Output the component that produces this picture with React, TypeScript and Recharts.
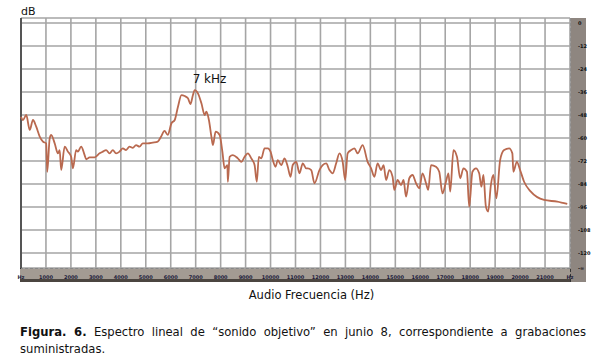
import React from "react";
import {
  LineChart,
  Line,
  XAxis,
  YAxis,
  CartesianGrid,
  ReferenceLine,
  ReferenceDot,
} from "recharts";

// spectrum trace: frequency (Hz) and level (dB)
const frequencyHz = [
  0, 80, 210, 350, 480, 610, 750, 880, 1010, 1050, 1150, 1210, 1350, 1480, 1550, 1610, 1750, 1880, 2010, 2080,
  2210, 2280, 2410, 2550, 2610, 2750, 2950, 3150, 3280, 3410, 3550, 3680, 3810, 3950, 4080, 4210, 4350, 4480,
  4610, 4750, 4880, 5080, 5280, 5480, 5610, 5750, 5880, 6030, 6160, 6290, 6430, 6560, 6690, 6790, 6890, 6960,
  7090, 7230, 7360, 7430, 7530, 7630, 7690, 7800, 7960, 8070, 8160, 8270, 8290, 8360, 8490, 8690, 8830, 8960,
  9090, 9230, 9360, 9450, 9530, 9630, 9760, 9890, 10000, 10090, 10200, 10290, 10430, 10560, 10690, 10800,
  10890, 11030, 11160, 11290, 11430, 11490, 11630, 11760, 11960, 12090, 12230, 12360, 12490, 12630, 12760,
  12890, 12990, 13090, 13230, 13360, 13490, 13690, 13890, 14030, 14160, 14290, 14430, 14530, 14630, 14760,
  14890, 14960, 15090, 15230, 15330, 15430, 15560, 15690, 15830, 15960, 16090, 16230, 16320, 16430, 16630,
  16760, 16890, 17030, 17130, 17200, 17330, 17470, 17600, 17730, 17870, 17960, 18090, 18230, 18360, 18450,
  18530, 18630, 18720, 18830, 18930, 19050, 19200, 19360, 19560, 19690, 19730, 19870, 20000, 20160, 20430,
  20960, 21490, 21890,
];
const levelDb = [
  -49.0, -50.6, -48.0, -55.8, -50.6, -54.1, -59.3, -61.9, -62.8, -77.6, -60.2, -58.4, -62.8, -68.0, -66.3, -76.7,
  -64.5, -67.1, -69.8, -75.8, -66.3, -67.1, -64.5, -68.9, -71.1, -70.1, -70.1, -68.0, -67.1, -66.3, -68.0, -66.3,
  -68.0, -67.1, -65.4, -66.3, -64.5, -65.1, -63.7, -64.5, -62.8, -62.8, -62.4, -61.9, -59.3, -56.3, -58.4, -52.3,
  -50.6, -43.7, -37.6, -38.1, -39.3, -42.3, -37.6, -35.0, -36.7, -41.9, -48.0, -46.3, -50.6, -59.3, -63.7, -56.7,
  -58.4, -67.1, -75.8, -74.1, -82.8, -69.8, -68.9, -70.6, -72.4, -69.8, -68.0, -70.6, -74.1, -82.8, -69.8, -70.6,
  -65.4, -65.4, -67.1, -71.5, -75.0, -71.5, -74.1, -70.6, -75.0, -80.2, -74.1, -72.4, -78.4, -73.2, -75.8, -75.8,
  -76.7, -83.6, -76.7, -74.1, -73.2, -76.7, -78.4, -73.2, -68.0, -72.4, -81.9, -68.0, -66.3, -65.4, -68.0, -63.7,
  -72.4, -75.8, -80.2, -73.2, -76.7, -74.1, -81.9, -76.7, -80.2, -87.1, -81.9, -84.5, -81.9, -90.6, -81.0, -79.3,
  -83.6, -86.2, -78.4, -83.6, -87.1, -74.1, -75.0, -77.6, -88.9, -82.8, -78.4, -88.0, -66.3, -69.8, -81.0, -75.8,
  -77.6, -95.8, -77.6, -75.8, -78.4, -85.4, -79.3, -95.8, -98.4, -84.5, -79.3, -91.5, -71.5, -66.3, -65.4, -68.0,
  -77.6, -72.4, -76.7, -82.8, -88.0, -92.3, -93.2, -94.4,
];

const xTicks = [
  0, 1000, 2000, 3000, 4000, 5000, 6000, 7000, 8000, 9000, 10000, 11000, 12000, 13000, 14000, 15000, 16000,
  17000, 18000, 19000, 20000, 21000, 22000,
];
const yTicks = [0, -12, -24, -36, -48, -60, -72, -84, -96, -108, -120, -127.8];
const yTickLabels = ["0", "-12", "-24", "-36", "-48", "-60", "-72", "-84", "-96", "-108", "-120", "-∞"];

const data = frequencyHz.map((f, i) => ({ f, db: levelDb[i] }));

const FONT = "'DejaVu Sans', Verdana, sans-serif";

const xLabel = (v: number) => (v === 0 || v === 22000 ? "Hz" : String(v));
const yLabel = (v: number) => yTickLabels[yTicks.indexOf(v)] ?? String(v);

export default function App() {
  return (
    <div
      style={{
        position: "absolute",
        left: 0,
        top: 0,
        width: 603,
        height: 364,
        background: "#fff",
        fontFamily: FONT,
        color: "#111",
      }}
    >
      {/* bands behind the plot, like the analyser window */}
      <div
        style={{
          position: "absolute",
          left: 20,
          top: 268,
          width: 550,
          height: 10,
          background: "#a39b93",
          borderTop: "1px dashed #333",
          borderBottom: "3px solid #4b4540",
        }}
      />
      <div
        style={{
          position: "absolute",
          left: 570,
          top: 18,
          width: 15,
          height: 264,
          background: "#8e8680",
          borderLeft: "1px dashed #333",
        }}
      />
      <div style={{ position: "absolute", left: 21, top: 5, fontSize: 11 }}>dB</div>

      <div style={{ position: "absolute", left: 0, top: 0 }}>
        <LineChart width={603} height={282} data={data} margin={{ top: 18, right: 18, bottom: 2, left: 21 }}>
          <CartesianGrid stroke="#a5a5a5" strokeWidth={1.6} />
          <XAxis
            type="number"
            dataKey="f"
            domain={[0, 22000]}
            ticks={xTicks}
            interval={0}
            height={12}
            axisLine={false}
            tickLine={false}
            tickFormatter={xLabel}
            tick={{ fontSize: 5, fill: "#1c1c3c", fontWeight: 700 }}
            tickMargin={1}
          />
          <YAxis
            orientation="right"
            type="number"
            domain={[-127.8, 2.6]}
            ticks={yTicks}
            interval={0}
            width={15}
            axisLine={false}
            tickLine={false}
            tickFormatter={yLabel}
            tick={{ fontSize: 5, fill: "#111", fontWeight: 700 }}
            tickMargin={2}
            allowDataOverflow
          />
          <ReferenceLine x={0} stroke="#555" strokeWidth={2} />
          <Line
            type="monotoneX"
            dataKey="db"
            stroke="#b9694f"
            strokeWidth={1.8}
            dot={false}
            isAnimationActive={false}
          />
          <ReferenceDot
            x={6880}
            y={-31.3}
            r={0}
            fill="none"
            stroke="none"
            label={(p: any) => (
              <text x={p.viewBox.x} y={p.viewBox.y} fontSize={12} fontFamily={FONT} fill="#111">
                7 kHz
              </text>
            )}
          />
        </LineChart>
      </div>

      <div
        style={{
          position: "absolute",
          left: 0,
          width: 603,
          top: 288,
          textAlign: "center",
          fontSize: 11.5,
          paddingLeft: 20,
          boxSizing: "border-box",
        }}
      >
        Audio Frecuencia (Hz)
      </div>

      <div
        style={{
          position: "absolute",
          left: 20,
          width: 566,
          top: 324,
          fontSize: 11.6,
          lineHeight: "17px",
          textAlign: "justify",
        }}
      >
        <b>Figura. 6.</b> Espectro lineal de “sonido objetivo” en junio 8, correspondiente a grabaciones
        suministradas.
      </div>
    </div>
  );
}
